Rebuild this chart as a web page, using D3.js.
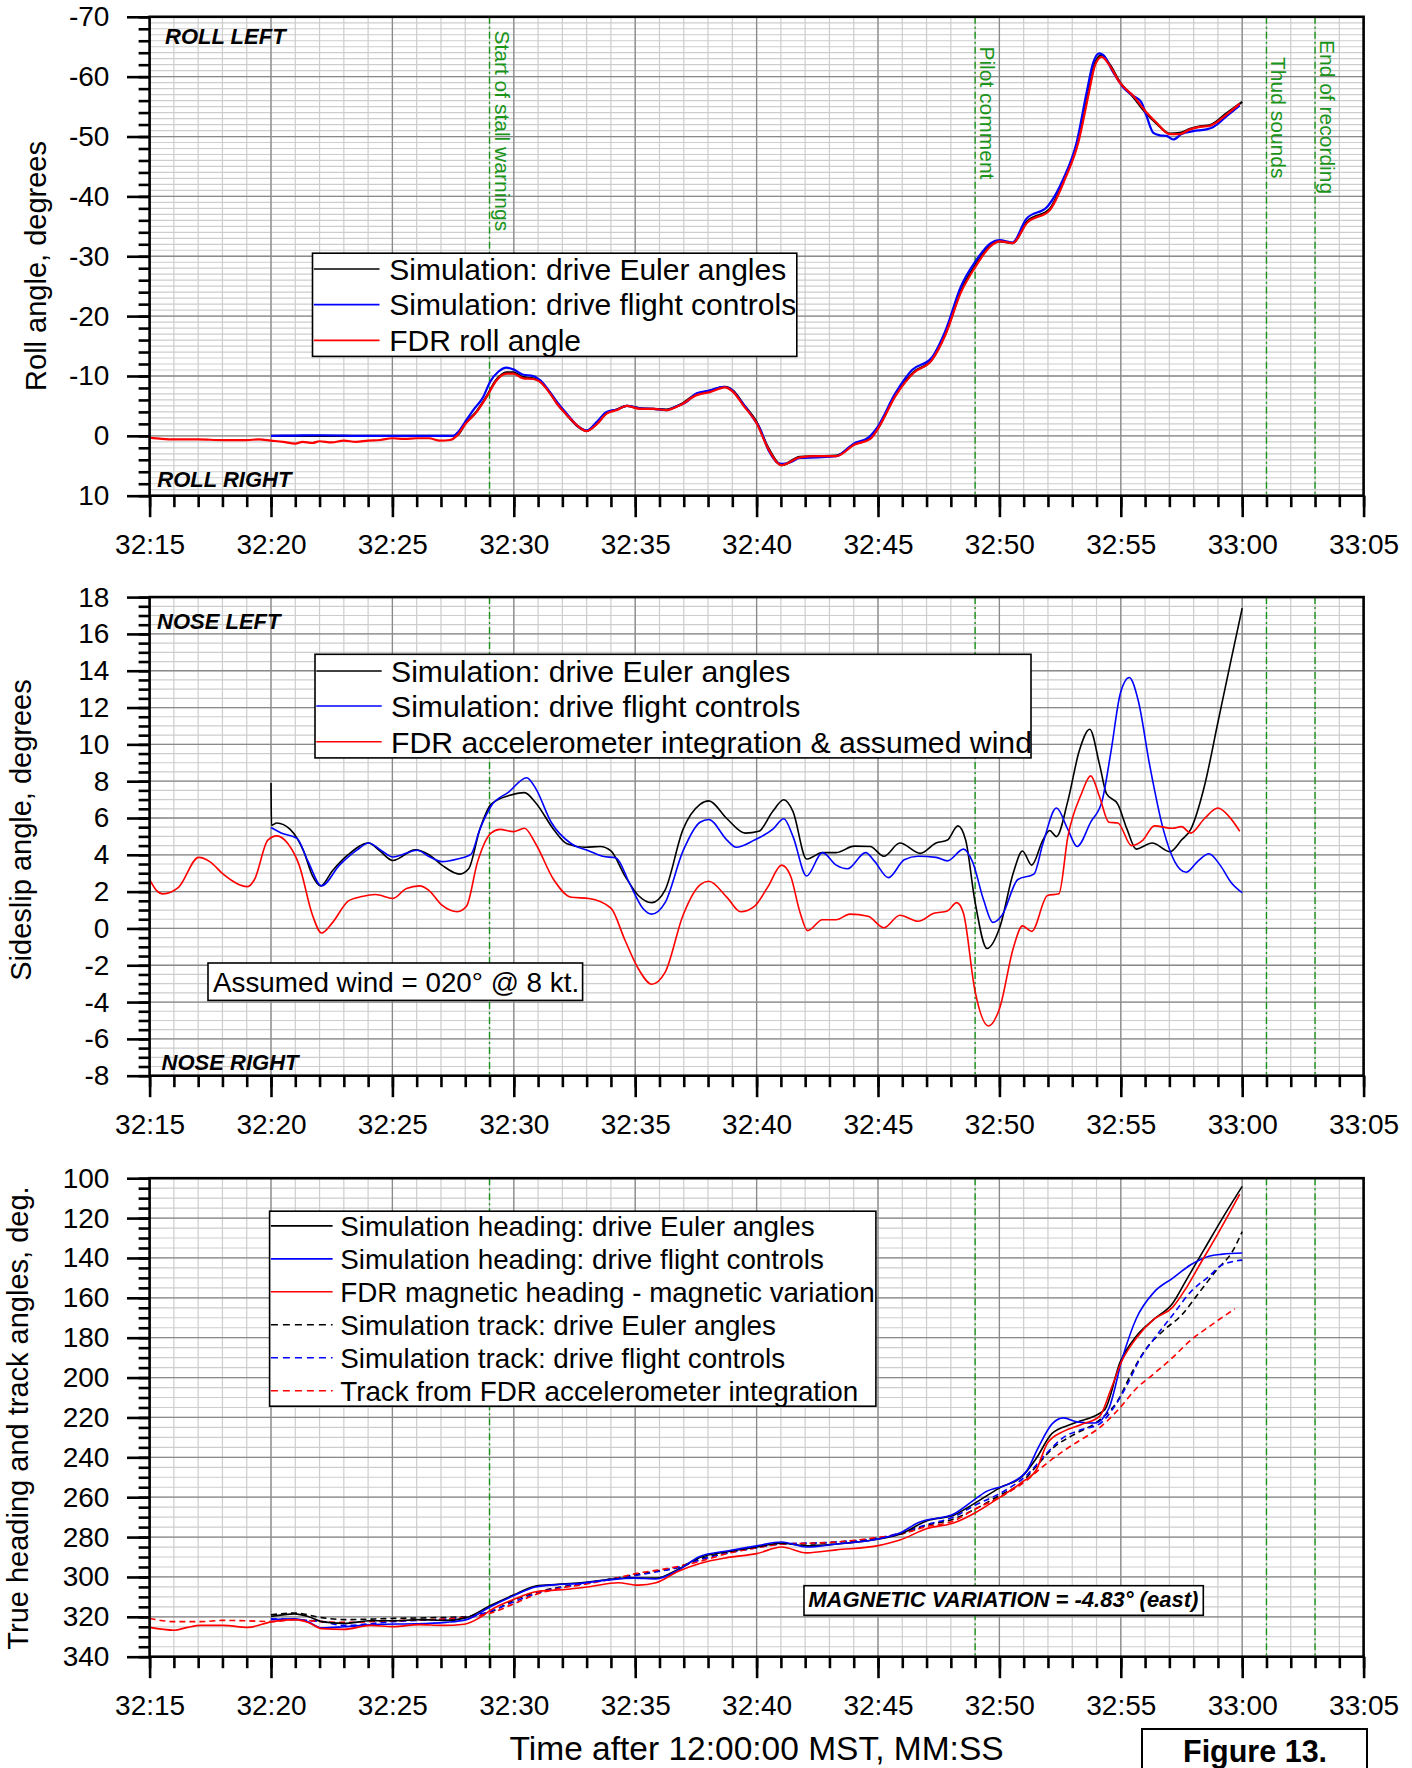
<!DOCTYPE html>
<html>
<head>
<meta charset="utf-8">
<script src="https://cdn.jsdelivr.net/npm/d3@7"></script>
<style>
  html, body { margin: 0; padding: 0; background: #fff; }
  svg { display: block; font-family: "Liberation Sans", Arial, sans-serif; }
</style>
</head>
<body>
<svg id="chart" width="1412" height="1768"></svg>
<script>
// ---------------------------------------------------------------
// Time is in seconds after 12:32:00 MST (15 -> 32:15, 60 -> 33:00)
// ---------------------------------------------------------------
const timeTicksMajor = d3.range(15, 66, 5);
const timeTicksMinor = d3.range(15, 66, 1);

const eventTimes  = [29, 49, 61, 63];
const eventLabels = ["Start of stall warnings", "Pilot comment", "Thud sounds", "End of recording"];

// ---------------- Roll angle (deg, negative = left) ----------------
const rollLegend = ["Simulation: drive Euler angles", "Simulation: drive flight controls", "FDR roll angle"];

const rollEuler = [[20.0,0],[24.0,0],[27.5,0],[27.72,-0.3],[27.99,-2.0],[28.47,-4.1],[28.88,-6.6],[29.29,-9.4],[29.7,-10.6],[29.98,-10.6],[30.39,-9.8],[30.8,-9.6],[31.08,-9.1],[31.49,-7.2],[31.77,-5.5],[32.18,-3.5],[32.59,-1.7],[33.0,-0.8],[33.41,-2.0],[33.82,-3.8],[34.24,-4.4],[34.65,-5.0],[35.2,-4.6],[35.75,-4.5],[36.3,-4.4],[36.84,-5.2],[37.53,-7.0],[38.08,-7.5],[38.7,-8.2],[39.04,-7.5],[39.45,-5.3],[40.0,-2.3],[40.47,1.9],[41.03,4.9],[41.78,3.5],[42.5,3.4],[43.28,3.3],[44.02,1.4],[44.68,0.4],[45.0,-1.3],[45.71,-6.8],[46.46,-10.6],[47.21,-12.7],[47.77,-17.0],[48.42,-24.3],[48.99,-28.4],[49.64,-31.9],[50.01,-32.5],[50.54,-32.2],[51.14,-35.8],[52.07,-37.9],[52.7,-43.3],[53.25,-49.5],[53.66,-57.3],[53.93,-62.2],[54.21,-63.6],[54.55,-62.0],[54.96,-59.1],[55.51,-56.6],[56.06,-53.8],[56.47,-52.2],[57.02,-50.5],[57.43,-50.6],[57.85,-51.3],[58.26,-51.7],[58.67,-51.9],[59.36,-53.9],[60.0,-55.8]];

const rollControls = [[20.0,0],[21.0,-0.05],[22.0,-0.1],[24.0,0],[26.0,0],[27.51,0],[27.72,-0.7],[27.99,-2.3],[28.33,-4.3],[28.74,-6.5],[29.02,-9.0],[29.36,-10.7],[29.7,-11.4],[29.98,-11.1],[30.39,-10.2],[30.8,-10.0],[31.08,-9.3],[31.49,-7.3],[31.77,-5.7],[32.18,-3.7],[32.59,-1.8],[33.0,-0.9],[33.41,-2.3],[33.82,-4.0],[34.24,-4.4],[34.65,-5.0],[35.2,-4.6],[35.75,-4.5],[36.3,-4.3],[36.57,-4.7],[37.12,-5.7],[37.53,-7.1],[38.08,-7.6],[38.63,-8.2],[38.9,-7.9],[39.32,-6.0],[39.87,-2.9],[40.14,-1.2],[40.5,2.5],[41.0,4.7],[41.4,4.4],[41.78,3.7],[42.5,3.6],[43.28,3.4],[44.0,1.3],[44.6,0.3],[45.0,-1.6],[45.7,-7.0],[46.4,-11.0],[47.2,-13.0],[47.77,-17.5],[48.42,-25.0],[48.99,-29.0],[49.64,-32.2],[50.0,-32.7],[50.54,-32.3],[51.1,-36.2],[52.0,-38.4],[52.63,-42.9],[53.18,-49.0],[53.59,-57.3],[53.86,-62.3],[54.11,-63.9],[54.28,-63.6],[54.69,-60.7],[55.1,-58.2],[55.51,-56.8],[55.85,-55.7],[56.06,-53.4],[56.34,-50.6],[56.61,-50.2],[56.88,-50.1],[57.16,-49.5],[57.5,-50.4],[57.98,-50.9],[58.53,-51.2],[58.81,-51.6],[59.36,-53.4],[59.9,-55.2]];

const rollFdr = [[15.0,0.3],[15.5,0.5],[16.0,0.6],[17.0,0.6],[18.0,0.7],[19.0,0.7],[19.5,0.6],[20.0,0.8],[20.5,1.0],[21.0,1.3],[21.3,1.0],[21.7,1.2],[22.0,0.9],[22.5,1.1],[23.0,0.8],[23.5,1.0],[24.0,0.8],[24.5,0.7],[25.0,0.4],[25.5,0.5],[26.0,0.4],[26.5,0.4],[26.96,0.8],[27.37,0.7],[27.65,0.0],[27.99,-1.9],[28.47,-4.0],[28.88,-6.5],[29.29,-9.3],[29.7,-10.4],[29.98,-10.4],[30.39,-9.6],[30.8,-9.5],[31.08,-9.0],[31.49,-7.1],[31.77,-5.4],[32.18,-3.5],[32.59,-1.8],[33.0,-0.8],[33.41,-1.9],[33.82,-3.7],[34.24,-4.3],[34.65,-5.0],[35.2,-4.5],[35.75,-4.5],[36.3,-4.3],[36.84,-5.1],[37.53,-6.8],[38.08,-7.3],[38.7,-8.1],[39.04,-7.3],[39.45,-5.1],[40.0,-2.1],[40.47,2.1],[41.03,4.9],[41.78,3.6],[42.5,3.4],[43.28,3.4],[44.02,1.5],[44.68,0.5],[45.0,-1.2],[45.71,-6.6],[46.46,-10.5],[47.21,-12.6],[47.77,-16.8],[48.42,-24.0],[48.99,-28.1],[49.64,-31.7],[50.01,-32.5],[50.54,-32.2],[51.14,-35.6],[52.07,-37.7],[52.7,-42.9],[53.25,-49.0],[53.66,-56.8],[53.93,-61.8],[54.21,-63.3],[54.55,-61.8],[54.96,-59.0],[55.51,-56.8],[56.06,-54.0],[56.47,-52.3],[57.02,-50.4],[57.43,-50.4],[57.85,-51.2],[58.26,-51.6],[58.67,-51.8],[59.36,-53.7],[59.9,-55.5]];

// ---------------- Sideslip angle (deg, positive = nose left) ----------------
const slipLegend = ["Simulation: drive Euler angles", "Simulation: drive flight controls", "FDR accelerometer integration & assumed wind"];
const windNote = "Assumed wind = 020\u00b0 @ 8 kt.";

const slipEuler = [[20.0,7.9],[20.02,5.6],[20.24,5.73],[20.79,5.38],[21.34,4.21],[21.71,2.85],[22.04,2.31],[22.54,3.15],[23.19,4.02],[24.02,4.64],[24.48,4.21],[25.02,3.69],[25.94,4.27],[26.49,4.02],[27.04,3.44],[27.77,2.95],[28.14,3.24],[28.6,5.38],[29.06,6.74],[29.8,7.22],[30.44,7.38],[30.9,6.83],[31.64,5.38],[32.19,4.6],[32.92,4.41],[33.56,4.45],[34.0,4.21],[34.58,2.85],[35.13,1.79],[35.68,1.4],[36.23,2.08],[36.97,5.38],[37.67,6.74],[38.03,6.93],[38.78,5.96],[39.53,5.18],[40.09,5.28],[40.66,6.35],[41.12,6.99],[41.5,6.35],[42.06,3.77],[42.71,4.12],[43.28,4.12],[44.02,4.47],[44.68,4.45],[45.24,3.92],[45.9,4.64],[46.74,4.08],[47.39,4.64],[47.86,4.8],[48.29,5.57],[48.61,4.8],[48.99,1.5],[49.49,-1.09],[50.01,0.04],[50.58,3.05],[50.95,4.21],[51.33,3.44],[51.79,4.8],[52.07,5.32],[52.35,4.99],[52.82,6.93],[53.29,9.65],[53.72,10.82],[54.13,8.87],[54.41,7.32],[54.88,6.74],[55.26,5.38],[55.63,4.31],[56.29,4.64],[57.03,4.17],[57.5,4.8],[57.88,5.38],[58.44,7.71],[59.0,11.2],[59.56,14.7],[60.0,17.4]];

const slipControls = [[20.0,5.48],[20.42,5.18],[21.07,4.89],[21.53,3.63],[22.08,2.31],[22.82,3.44],[23.55,4.27],[24.02,4.64],[24.57,4.21],[25.02,3.88],[26.03,4.25],[26.49,3.92],[27.04,3.63],[27.68,3.77],[28.23,4.02],[28.6,5.38],[29.06,6.64],[29.8,7.42],[30.53,8.19],[30.9,7.61],[31.54,5.77],[32.37,4.6],[33.1,4.21],[33.66,3.92],[34.21,3.83],[34.76,2.47],[35.31,1.1],[35.68,0.78],[36.23,1.4],[36.97,4.21],[37.67,5.77],[38.03,5.92],[38.78,4.8],[39.16,4.41],[39.91,4.8],[40.66,5.38],[41.12,5.96],[41.5,4.99],[42.06,2.85],[42.71,4.12],[43.28,3.44],[43.74,3.24],[44.49,4.12],[44.87,3.63],[45.43,2.76],[46.08,3.73],[46.65,3.92],[47.39,3.86],[47.86,3.67],[48.52,4.31],[48.89,3.63],[49.36,1.5],[49.73,0.33],[50.11,0.72],[50.76,2.66],[51.42,2.95],[51.79,4.6],[52.35,6.54],[52.82,5.38],[53.2,4.45],[53.76,5.77],[54.23,6.93],[54.6,9.65],[54.98,12.76],[55.35,13.63],[55.72,12.37],[56.19,8.87],[56.75,5.38],[57.22,3.63],[57.69,3.05],[58.16,3.63],[58.63,4.06],[59.09,3.44],[59.56,2.47],[60.0,1.94]];

const slipFdr = [[15.0,2.66],[15.27,2.08],[15.55,1.88],[16.19,2.23],[17.02,3.86],[17.48,3.63],[18.03,2.95],[19.04,2.27],[19.32,2.66],[19.87,4.8],[20.24,5.03],[20.7,4.6],[21.16,3.44],[21.71,0.72],[22.08,-0.25],[22.54,0.33],[23.19,1.5],[23.74,1.73],[24.3,1.84],[25.02,1.63],[25.58,2.17],[26.12,2.31],[26.49,2.08],[27.04,1.26],[27.68,0.91],[28.05,1.2],[28.51,3.63],[29.06,5.18],[29.43,5.38],[29.98,5.26],[30.44,5.44],[30.9,4.6],[31.64,2.66],[32.37,1.69],[33.1,1.63],[34.0,1.1],[34.58,-0.64],[35.13,-2.19],[35.68,-3.03],[36.23,-2.39],[36.97,0.72],[37.67,2.37],[38.03,2.56],[38.78,1.69],[39.34,0.91],[39.91,1.2],[40.47,2.27],[41.03,3.44],[41.4,2.85],[41.78,0.91],[42.1,-0.12],[42.71,0.47],[43.28,0.47],[43.84,0.78],[44.59,0.66],[45.24,0.04],[45.9,0.72],[46.65,0.39],[47.3,0.82],[47.86,0.95],[48.24,1.4],[48.52,0.82],[48.99,-3.36],[49.55,-5.3],[50.01,-4.33],[50.58,-1.03],[50.95,0.14],[51.33,-0.16],[51.98,1.79],[52.45,1.88],[52.82,4.99],[53.38,7.32],[53.76,8.29],[54.13,7.13],[54.51,5.77],[54.88,5.73],[55.44,4.5],[55.91,4.8],[56.38,5.57],[57.13,5.44],[57.5,5.53],[57.88,5.18],[58.44,5.96],[59.0,6.54],[59.47,6.06],[59.9,5.28]];

// ---------------- True heading and track (deg) ----------------
const headLegend = [
  "Simulation heading: drive Euler angles",
  "Simulation heading: drive flight controls",
  "FDR magnetic heading - magnetic variation",
  "Simulation track: drive Euler angles",
  "Simulation track: drive flight controls",
  "Track from FDR accelerometer integration"
];
const magVarNote = "MAGNETIC VARIATION = -4.83\u00b0 (east)";

const headEuler = [[20.0,319.8],[20.97,318.5],[21.53,319.8],[22.08,322.4],[23.0,323.3],[24.11,322.0],[25.02,322.0],[26.12,321.4],[27.22,321.8],[28.05,320.4],[29.06,314.2],[29.98,309.1],[30.9,304.5],[31.82,303.7],[32.74,302.9],[33.84,301.4],[34.95,300.4],[35.86,300.6],[36.78,296.1],[37.66,290.3],[38.78,287.4],[40.0,285.0],[41.03,283.1],[42.06,284.4],[43.28,283.5],[44.96,281.1],[45.9,278.6],[47.02,271.8],[48.14,268.9],[48.99,263.0],[50.01,255.3],[50.95,249.5],[51.51,240.7],[52.17,228.0],[53.01,223.2],[54.32,216.3],[54.98,192.0],[55.63,179.4],[56.38,170.6],[57.13,162.8],[57.69,151.2],[58.44,135.6],[59.19,120.0],[60.0,104.1]];

const headControls = [[20.0,321.4],[20.97,321.0],[21.53,322.5],[22.08,325.5],[23.0,325.0],[24.5,323.7],[26.0,323.5],[27.2,322.8],[28.05,321.4],[29.06,314.8],[29.98,309.5],[30.9,305.0],[31.82,303.8],[32.74,303.2],[33.84,301.6],[34.95,300.6],[35.86,301.0],[36.78,296.5],[37.66,289.7],[38.78,287.0],[40.0,284.4],[41.03,282.5],[42.06,285.0],[43.28,283.5],[44.96,281.1],[45.9,278.0],[46.65,272.8],[48.14,268.3],[48.89,262.0],[49.45,257.2],[50.39,253.3],[51.14,246.5],[51.61,234.9],[52.17,223.2],[52.64,220.2],[53.2,222.2],[53.95,222.8],[54.51,215.4],[55.07,190.0],[55.63,170.6],[56.38,157.0],[57.13,150.2],[57.88,143.4],[58.63,139.1],[59.19,138.1],[60.0,137.5]];

const headFdr = [[15.0,325.3],[16.01,326.7],[16.56,325.3],[17.11,324.3],[18.03,324.3],[19.04,325.3],[20.05,322.4],[20.97,321.4],[21.53,322.8],[22.08,325.9],[23.0,326.3],[24.11,324.3],[25.02,324.9],[26.12,323.9],[27.04,324.3],[27.96,323.7],[28.6,320.4],[29.06,316.5],[29.98,311.3],[30.9,307.4],[32.0,306.4],[33.1,304.9],[34.3,302.9],[35.13,304.1],[35.86,302.9],[36.78,297.1],[37.66,293.2],[38.78,290.3],[40.0,288.3],[41.03,285.0],[42.06,287.9],[43.28,286.4],[44.96,284.4],[45.9,281.5],[47.02,275.7],[48.14,272.8],[48.99,267.9],[50.01,260.1],[50.95,252.3],[51.51,246.5],[51.98,232.9],[52.64,227.0],[53.38,223.5],[54.13,219.3],[54.6,205.6],[55.03,192.0],[55.63,180.4],[56.38,170.6],[57.13,164.8],[57.69,155.1],[58.25,143.4],[59.0,127.8],[59.9,108.0]];

const trackEuler = [[20.0,319.0],[20.97,318.1],[22.08,320.4],[23.0,321.4],[25.02,320.8],[27.96,320.0],[28.51,318.9],[29.06,317.5],[29.98,311.7],[30.9,307.8],[32.0,304.9],[33.1,302.9],[34.3,300.4],[35.13,298.6],[35.86,297.1],[36.78,295.1],[37.66,291.0],[38.78,287.8],[40.0,285.0],[41.03,283.5],[42.15,283.5],[43.28,282.5],[44.96,280.6],[45.9,278.6],[47.02,274.1],[48.14,270.8],[48.99,266.0],[50.01,259.1],[50.95,252.3],[51.51,244.6],[52.26,234.8],[53.01,229.0],[54.13,221.2],[54.88,211.5],[55.44,197.9],[56.0,186.2],[56.75,176.5],[57.5,168.7],[58.25,157.0],[59.0,145.3],[59.56,137.5],[60.0,126.8]];

const trackControls = [[20.0,321.0],[22.08,322.4],[23.0,324.3],[25.02,322.4],[27.96,320.4],[29.06,317.1],[29.98,312.6],[30.9,308.4],[33.1,302.9],[35.13,299.0],[36.78,295.1],[37.66,291.5],[40.0,285.4],[41.03,283.5],[43.28,282.5],[44.96,280.6],[45.9,278.0],[47.02,273.7],[48.14,269.8],[48.99,264.0],[50.01,258.2],[51.14,248.8],[51.89,238.7],[52.64,230.0],[53.38,226.1],[54.13,223.2],[54.69,215.4],[55.26,203.7],[55.82,190.0],[56.38,180.4],[57.13,168.7],[57.88,157.0],[58.63,149.2],[59.19,143.4],[60.0,141.1]];

const trackFdr = [[15.0,320.8],[16.01,322.4],[17.11,322.4],[18.03,321.8],[19.04,322.0],[20.05,322.4],[20.97,321.4],[22.08,322.4],[23.0,322.8],[25.02,322.0],[27.96,320.4],[29.06,318.1],[29.98,313.6],[30.9,308.8],[32.0,305.5],[33.1,303.3],[34.3,300.4],[35.13,298.0],[35.86,296.7],[36.78,294.7],[37.66,292.2],[38.78,288.3],[40.0,285.4],[41.03,283.5],[42.15,283.1],[43.28,282.5],[44.96,280.2],[45.9,278.6],[47.02,274.7],[48.14,271.8],[48.99,266.0],[50.01,260.1],[51.14,251.4],[51.89,243.6],[52.64,236.8],[53.38,231.0],[54.13,225.1],[54.88,216.3],[55.63,205.6],[56.38,197.9],[57.13,190.0],[57.88,181.3],[58.63,174.5],[59.7,165.5]];

// ---------------------------------------------------------------
// Layout
// ---------------------------------------------------------------
const svg = d3.select("#chart");
const X0 = 149.6, X1 = 1363.6;
const x = d3.scaleLinear().domain([15, 65]).range([X0, X1]);

const fmtTime = t => {
  const s = 32 * 60 + t;
  return Math.floor(s / 60) + ":" + String(s % 60).padStart(2, "0");
};

const GREEN = "#1a941a";
const GRID_MINOR = "#cdcdcd";
const GRID_MAJOR = "#8a8a8a";
const TICK_FONT = 28;

function drawPanel(cfg) {
  const g = svg.append("g");
  const y = d3.scaleLinear().domain(cfg.domain).range([cfg.top, cfg.bottom]);

  // minor grid
  const gm = g.append("g").attr("stroke", GRID_MINOR).attr("stroke-width", 1.2);
  gm.selectAll("line.v").data(timeTicksMinor).join("line")
    .attr("x1", d => x(d)).attr("x2", d => x(d))
    .attr("y1", cfg.top).attr("y2", cfg.bottom);
  gm.selectAll("line.h").data(cfg.gridMinor).join("line")
    .attr("x1", X0).attr("x2", X1)
    .attr("y1", d => y(d)).attr("y2", d => y(d));

  // major grid
  const gM = g.append("g").attr("stroke", GRID_MAJOR).attr("stroke-width", 1.3);
  gM.selectAll("line.v").data(timeTicksMajor).join("line")
    .attr("x1", d => x(d)).attr("x2", d => x(d))
    .attr("y1", cfg.top).attr("y2", cfg.bottom);
  gM.selectAll("line.h").data(cfg.ticksMajor).join("line")
    .attr("x1", X0).attr("x2", X1)
    .attr("y1", d => y(d)).attr("y2", d => y(d));

  // event markers (dash-dot)
  g.append("g").selectAll("line").data(eventTimes).join("line")
    .attr("x1", d => x(d)).attr("x2", d => x(d))
    .attr("y1", cfg.top).attr("y2", cfg.bottom)
    .attr("stroke", GREEN).attr("stroke-width", 1.4)
    .attr("stroke-dasharray", "7,3,2,3");

  if (cfg.eventText) {
    g.append("g").selectAll("text").data(eventTimes).join("text")
      .attr("transform", (d, i) => `translate(${x(d) + 5},${cfg.eventTextY[i]}) rotate(90)`)
      .attr("font-size", 21).attr("fill", GREEN)
      .text((d, i) => eventLabels[i]);
  }

  // series
  const line = d3.line()
    .x(d => x(d[0])).y(d => y(d[1]))
    .curve(d3.curveMonotoneX);
  cfg.series.forEach(s => {
    g.append("path").datum(s.data)
      .attr("d", line)
      .attr("fill", "none")
      .attr("stroke", s.color)
      .attr("stroke-width", cfg.lineWidth)
      .attr("stroke-dasharray", s.dash || null)
      .attr("stroke-linejoin", "round");
  });

  // corner captions
  cfg.captions.forEach(c => {
    g.append("text").attr("x", c.x).attr("y", c.y)
      .attr("font-size", 22).attr("font-weight", "bold").attr("font-style", "italic")
      .text(c.text);
  });

  // frame
  g.append("rect")
    .attr("x", X0).attr("y", cfg.top)
    .attr("width", X1 - X0).attr("height", cfg.bottom - cfg.top)
    .attr("fill", "none").attr("stroke", "#000").attr("stroke-width", 2.6);

  // y axis: minor + major ticks
  const yMinor = g.append("g").attr("transform", `translate(${X0},0)`)
    .call(d3.axisLeft(y).tickValues(cfg.ticksMinor).tickSize(11).tickFormat(""));
  const yMajor = g.append("g").attr("transform", `translate(${X0},0)`)
    .call(d3.axisLeft(y).tickValues(cfg.ticksMajor).tickSize(22.6).tickPadding(17.6)
      .tickFormat(d => String(d)));
  [yMinor, yMajor].forEach(a => {
    a.select(".domain").remove();
    a.selectAll("line").attr("stroke", "#000").attr("stroke-width", 2.6);
    a.selectAll("text").attr("font-size", TICK_FONT).attr("fill", "#000")
      .attr("font-family", "Liberation Sans, Arial, sans-serif");
  });

  // x axis: minor + major ticks
  const xMinor = g.append("g").attr("transform", `translate(0,${cfg.bottom})`)
    .call(d3.axisBottom(x).tickValues(timeTicksMinor).tickSize(11.5).tickFormat(""));
  const xMajor = g.append("g").attr("transform", `translate(0,${cfg.bottom})`)
    .call(d3.axisBottom(x).tickValues(timeTicksMajor).tickSize(21.5).tickPadding(17)
      .tickFormat(fmtTime));
  [xMinor, xMajor].forEach(a => {
    a.select(".domain").remove();
    a.selectAll("line").attr("stroke", "#000").attr("stroke-width", 2.6);
    a.selectAll("text").attr("font-size", TICK_FONT).attr("fill", "#000")
      .attr("font-family", "Liberation Sans, Arial, sans-serif");
  });

  // y axis title
  svg.append("text")
    .attr("transform", `translate(${cfg.titleX},${cfg.titleY}) rotate(-90)`)
    .attr("text-anchor", "middle").attr("font-size", 29)
    .text(cfg.title);

  // legend
  const L = cfg.legend;
  const lg = svg.append("g");
  lg.append("rect").attr("x", L.x).attr("y", L.y).attr("width", L.w).attr("height", L.h)
    .attr("fill", "#fff").attr("stroke", "#000").attr("stroke-width", 1.6);
  cfg.series.slice().sort((a, b) => a.order - b.order).forEach((s, i) => {
    const ry = L.rows[i];
    lg.append("line").attr("x1", L.x + 1.3).attr("x2", L.lineEnd)
      .attr("y1", ry).attr("y2", ry)
      .attr("stroke", s.color).attr("stroke-width", 1.6)
      .attr("stroke-dasharray", s.dash ? "7,5" : null);
    lg.append("text").attr("x", L.textX).attr("y", ry + 0.358 * L.fontSize)
      .attr("font-size", L.fontSize).text(s.label);
  });

  // note boxes
  (cfg.notes || []).forEach(n => {
    svg.append("rect").attr("x", n.x).attr("y", n.y).attr("width", n.w).attr("height", n.h)
      .attr("fill", "#fff").attr("stroke", "#000").attr("stroke-width", 1.6);
    svg.append("text").attr("x", n.tx).attr("y", n.ty)
      .attr("font-size", n.fontSize)
      .attr("font-weight", n.bold ? "bold" : null)
      .attr("font-style", n.italic ? "italic" : null)
      .text(n.text);
  });
}

// ---------------- Panel 1: roll ----------------
drawPanel({
  top: 16.8, bottom: 495.7, domain: [-70, 10],
  ticksMajor: d3.range(-70, 11, 10),
  ticksMinor: d3.range(-70, 11, 2),
  gridMinor: d3.range(-70, 11, 1),
  lineWidth: 2.2,
  title: "Roll angle, degrees", titleX: 46, titleY: 266,
  eventText: true, eventTextY: [30.4, 46.4, 57, 40],
  series: [
    { data: rollEuler,    color: "#000000", label: rollLegend[0], order: 0 },
    { data: rollControls, color: "#0000ff", label: rollLegend[1], order: 1 },
    { data: rollFdr,      color: "#ff0000", label: rollLegend[2], order: 2 }
  ],
  captions: [
    { text: "ROLL LEFT",  x: 165,   y: 43.6 },
    { text: "ROLL RIGHT", x: 157.3, y: 486.7 }
  ],
  legend: { x: 312.5, y: 253.2, w: 484.3, h: 103.2, lineEnd: 379.5, textX: 389.3,
            rows: [269, 304.6, 340.4], fontSize: 30 }
});

// ---------------- Panel 2: sideslip ----------------
drawPanel({
  top: 597.1, bottom: 1075.7, domain: [18, -8],
  ticksMajor: d3.range(-8, 19, 2),
  ticksMinor: d3.range(-8, 18.01, 0.5),
  gridMinor: d3.range(-8, 18.01, 0.5),
  lineWidth: 1.6,
  title: "Sideslip angle, degrees", titleX: 30.5, titleY: 830,
  eventText: false,
  series: [
    { data: slipEuler,    color: "#000000", label: slipLegend[0], order: 0 },
    { data: slipControls, color: "#0000ff", label: slipLegend[1], order: 1 },
    { data: slipFdr,      color: "#ff0000", label: slipLegend[2], order: 2 }
  ],
  captions: [
    { text: "NOSE LEFT",  x: 157,   y: 629 },
    { text: "NOSE RIGHT", x: 161.6, y: 1070 }
  ],
  legend: { x: 315, y: 654.3, w: 716, h: 103.6, lineEnd: 381.7, textX: 391,
            rows: [671, 706, 741.8], fontSize: 30.2 },
  notes: [
    { text: windNote, x: 208, y: 963, w: 374.6, h: 37.4, tx: 213, ty: 991.6, fontSize: 27.8 }
  ]
});

// ---------------- Panel 3: heading and track ----------------
drawPanel({
  top: 1178.2, bottom: 1656.7, domain: [100, 340],
  ticksMajor: d3.range(100, 341, 20),
  ticksMinor: d3.range(100, 341, 5),
  gridMinor: d3.range(100, 341, 5),
  lineWidth: 1.6,
  title: "True heading and track angles, deg.", titleX: 28, titleY: 1418,
  eventText: false,
  series: [
    { data: trackEuler,    color: "#000000", dash: "6,4", label: headLegend[3], order: 3 },
    { data: trackControls, color: "#0000ff", dash: "6,4", label: headLegend[4], order: 4 },
    { data: trackFdr,      color: "#ff0000", dash: "6,4", label: headLegend[5], order: 5 },
    { data: headEuler,     color: "#000000", label: headLegend[0], order: 0 },
    { data: headControls,  color: "#0000ff", label: headLegend[1], order: 1 },
    { data: headFdr,       color: "#ff0000", label: headLegend[2], order: 2 }
  ],
  captions: [],
  legend: { x: 269.6, y: 1211.2, w: 606.3, h: 195, lineEnd: 332.6, textX: 340.2,
            rows: [1225.9, 1258.9, 1291.8, 1324.8, 1357.8, 1390.7], fontSize: 27.8 },
  notes: [
    { text: magVarNote, x: 804, y: 1585.7, w: 399.3, h: 29.6, tx: 808.3, ty: 1607.3,
      fontSize: 22, bold: true, italic: true }
  ]
});

// ---------------- Time axis title and figure tag ----------------
svg.append("text")
  .attr("x", (X0 + X1) / 2).attr("y", 1760)
  .attr("text-anchor", "middle").attr("font-size", 33.5)
  .text("Time after 12:00:00 MST, MM:SS");

svg.append("rect").attr("x", 1142).attr("y", 1729).attr("width", 225).attr("height", 60)
  .attr("fill", "#fff").attr("stroke", "#000").attr("stroke-width", 2);
svg.append("text").attr("x", 1183).attr("y", 1762)
  .attr("font-size", 30.5).attr("font-weight", "bold")
  .text("Figure 13.");
</script>
</body>
</html>
